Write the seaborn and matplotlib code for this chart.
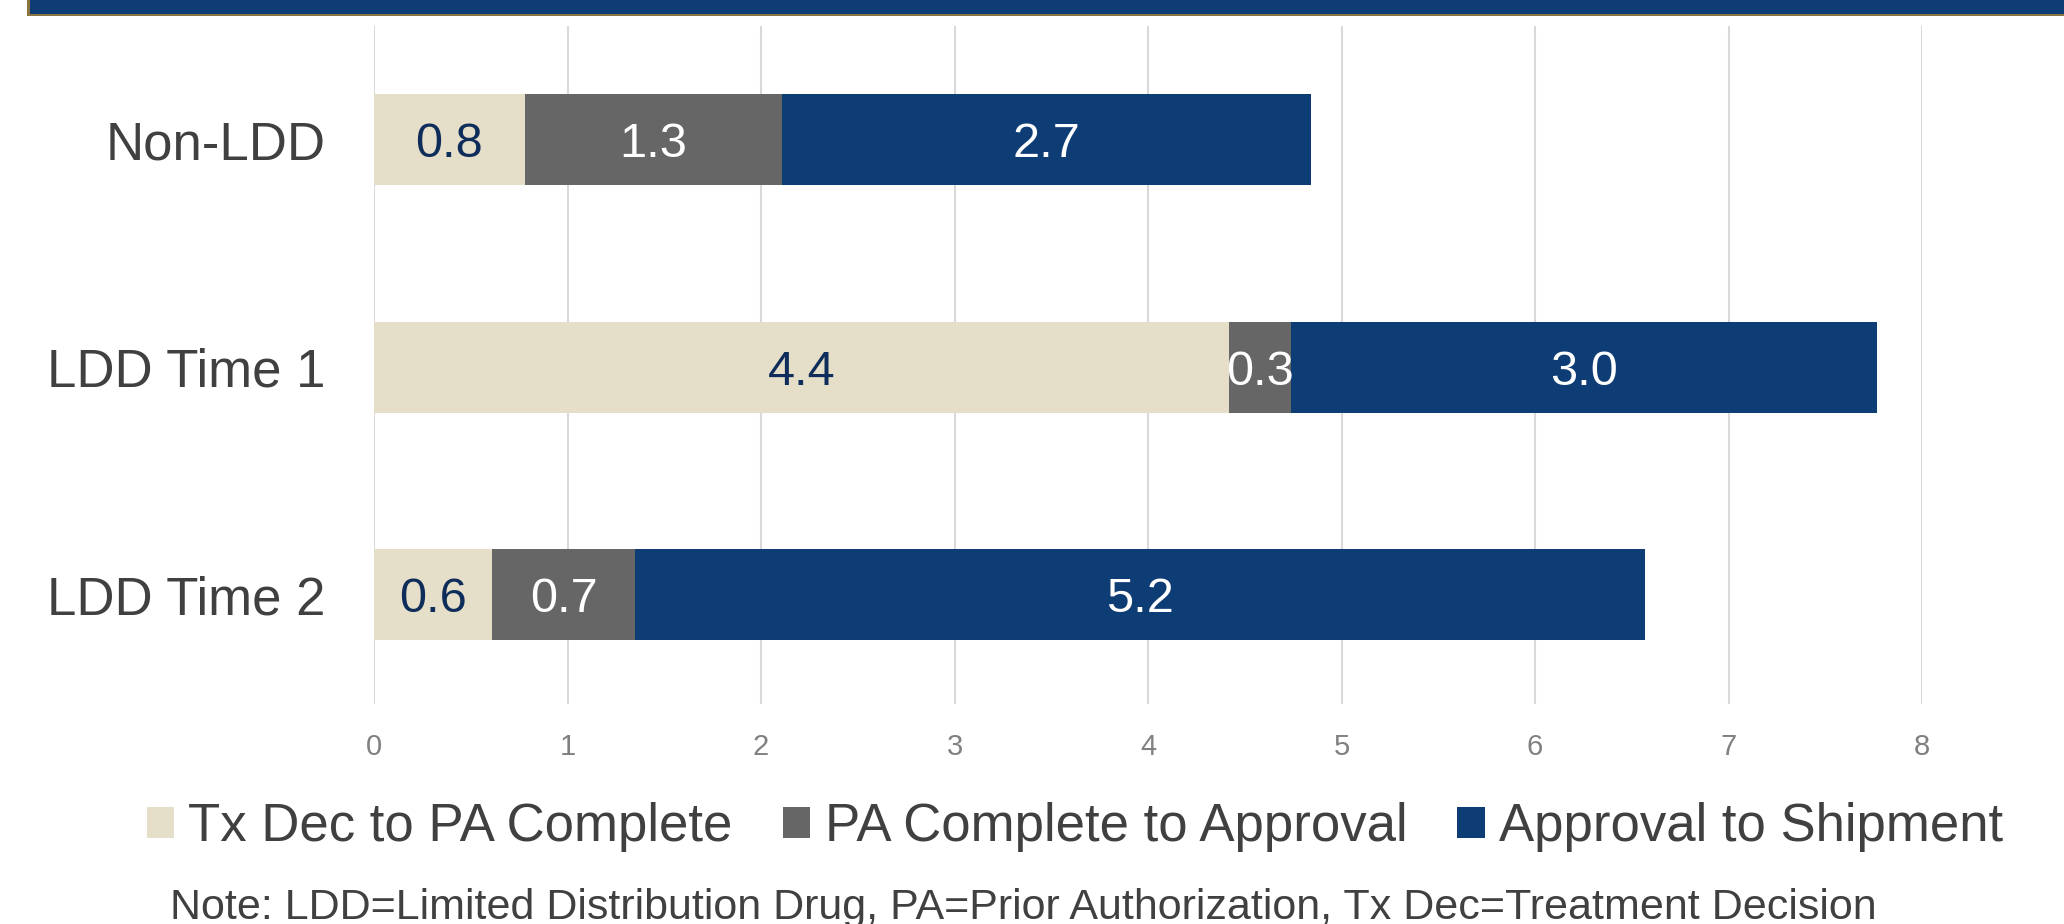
import matplotlib
matplotlib.use("Agg")
import matplotlib.pyplot as plt
from matplotlib.patches import Patch, Rectangle
import seaborn as sns
import pandas as pd
import numpy as np

# ---- data ----
categories = ["Non-LDD", "LDD Time 1", "LDD Time 2"]
series_names = ["Tx Dec to PA Complete", "PA Complete to Approval", "Approval to Shipment"]
tx_dec_to_pa = [0.78, 4.42, 0.61]
pa_to_approval = [1.33, 0.32, 0.74]
approval_to_ship = [2.73, 3.03, 5.22]
x_ticks = [0, 1, 2, 3, 4, 5, 6, 7, 8]
note_text = "Note: LDD=Limited Distribution Drug, PA=Prior Authorization, Tx Dec=Treatment Decision"

colors = ["#E5DEC8", "#666666", "#0E3C74"]
label_colors = ["#0E2D5A", "#FFFFFF", "#FFFFFF"]

sns.set_theme(style="white")
plt.rcParams["font.family"] = ["Liberation Sans", "DejaVu Sans"]

fig = plt.figure(figsize=(20.64, 9.24), dpi=100)
ax = fig.add_axes([374 / 2064, 1 - 704 / 924, (1922 - 374) / 2064, (704 - 26) / 924])

segs = [tx_dec_to_pa, pa_to_approval, approval_to_ship]
cums = np.cumsum(np.array(segs), axis=0)

# draw cumulative bars from longest to shortest so they stack visually
for i in [2, 1, 0]:
    df = pd.DataFrame({"cat": categories, "val": cums[i]})
    sns.barplot(data=df, x="val", y="cat", orient="h", color=colors[i],
                saturation=1, width=0.4, ax=ax, zorder=2, linewidth=0)

# segment labels (digits centred vertically on the bar)
label_size = 35
for i in range(3):
    starts = cums[i] - np.array(segs[i])
    for j, cat in enumerate(categories):
        ax.annotate(f"{segs[i][j]:.1f}", xy=(starts[j] + segs[i][j] / 2, j),
                    xytext=(0, -0.716 * label_size / 2), textcoords="offset points",
                    ha="center", va="baseline", fontsize=label_size,
                    color=label_colors[i], zorder=5)

ax.set_xlim(0, 8)
ax.set_ylim(2.48, -0.5)
ax.set_xticks(x_ticks)
ax.set_xticklabels([str(t) for t in x_ticks])
ax.xaxis.grid(True, color="#D9D9D9", linewidth=1.5, zorder=0)
ax.yaxis.grid(False)
ax.set_axisbelow(True)
for s in ax.spines.values():
    s.set_visible(False)
ax.tick_params(axis="x", length=0, pad=21, labelsize=21, labelcolor="#808080")
ax.tick_params(axis="y", length=0, pad=35, labelsize=38, labelcolor="#404040")
ax.set_xlabel("")
ax.set_ylabel("")

# legend
handles = [Patch(facecolor=c, edgecolor="none", label=n) for c, n in zip(colors, series_names)]
leg = fig.legend(handles=handles, loc="center", bbox_to_anchor=(0.5208, 1 - 827 / 924),
                 ncol=3, frameon=False, fontsize=38, handlelength=0.52, handleheight=0.52,
                 handletextpad=0.27, columnspacing=0.95, borderpad=0, labelcolor="#404040")

# note
fig.text(0.4958, 1 - 918.7 / 924, note_text, ha="center", va="baseline",
         fontsize=31, color="#404040")

# top banner (cut-off header)
fig.patches.append(Rectangle((27 / 2064, 1 - 16 / 924), 1, 16 / 924,
                             transform=fig.transFigure, facecolor="#8C7440",
                             edgecolor="none", zorder=0))
fig.patches.append(Rectangle((29.5 / 2064, 1 - 14 / 924), 1, 14 / 924,
                             transform=fig.transFigure, facecolor="#0E3C74",
                             edgecolor="none", zorder=1))

fig.savefig("out.png", dpi=100)
